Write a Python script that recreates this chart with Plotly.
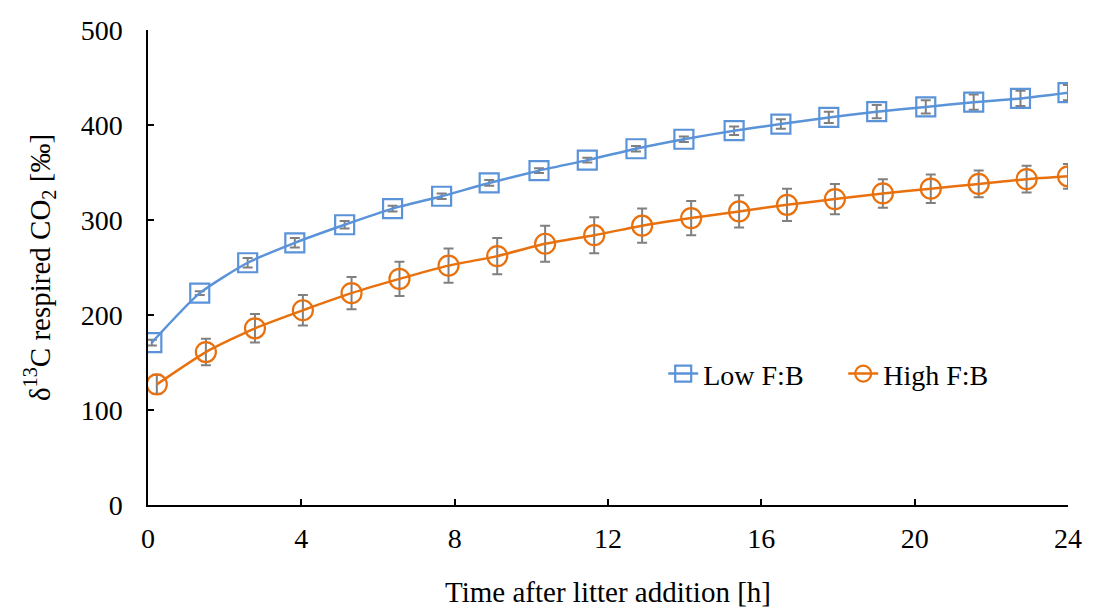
import plotly.graph_objects as go

# Time points [h]
time_low = [0.1, 1.35, 2.6, 3.83, 5.13, 6.38, 7.66, 8.9, 10.2, 11.46,
            12.73, 13.98, 15.29, 16.51, 17.76, 19.01, 20.29, 21.54, 22.76, 24.0]
time_high = [0.23, 1.51, 2.79, 4.04, 5.31, 6.56, 7.84, 9.11, 10.36, 11.64,
             12.89, 14.17, 15.42, 16.67, 17.92, 19.17, 20.42, 21.67, 22.92, 24.0]

# delta13C respired CO2 [permil]
low_fb = [171, 223, 255, 276, 295, 312, 325, 339, 352, 363,
          375, 385, 394, 401, 408, 414, 419, 424, 428, 434]
low_err = [3, 2, 5, 5, 4, 3, 3, 3, 2.5, 2.5,
           3, 3, 4.5, 5, 6, 7, 7, 8, 8, 8]
high_fb = [127, 161, 186, 205, 223, 238, 252, 262, 275, 284,
           294, 302, 309, 316, 322, 328, 333, 338, 343, 346]
high_err = [10, 14, 15, 16, 17, 18, 18, 19, 19, 19,
            18, 18, 17, 17, 16, 15, 15, 14, 14, 13]

x_ticks = [0, 4, 8, 12, 16, 20, 24]
y_ticks = [0, 100, 200, 300, 400, 500]

BLUE = "#5B93D9"
ORANGE = "#E8710E"
FONT = "Liberation Serif"
FS = 28
TS = 29

fig = go.Figure()
fig.add_trace(go.Scatter(
    x=time_low, y=low_fb, name="Low F:B", mode="lines+markers",
    line=dict(color=BLUE, width=2.5, shape="spline", smoothing=0.6),
    marker=dict(symbol="square-open", size=19, color=BLUE, line=dict(width=2.2, color=BLUE)),
    error_y=dict(type="data", array=low_err, color="#808080", thickness=2, width=5),
))
fig.add_trace(go.Scatter(
    x=time_high, y=high_fb, name="High F:B", mode="lines+markers",
    line=dict(color=ORANGE, width=2.5, shape="spline", smoothing=0.6),
    marker=dict(symbol="circle-open", size=20, color=ORANGE, line=dict(width=2.2, color=ORANGE)),
    error_y=dict(type="data", array=high_err, color="#808080", thickness=2, width=5),
))

fig.update_layout(
    width=1094, height=613,
    margin=dict(l=140, r=34, t=22, b=116),
    paper_bgcolor="white", plot_bgcolor="white",
    font=dict(family=FONT, size=FS, color="black"),
    legend=dict(orientation="h", x=0.56, y=0.276, xanchor="left", yanchor="middle",
                font=dict(family=FONT, size=FS, color="black"),
                bgcolor="rgba(0,0,0,0)", entrywidth=135, entrywidthmode="pixels"),
    showlegend=True,
)
fig.update_xaxes(
    range=[0, 24], tickvals=x_ticks, ticktext=[str(v) for v in x_ticks],
    showline=True, linecolor="black", linewidth=1.5, mirror=False,
    ticks="inside", ticklen=6, tickcolor="black", tickwidth=1.5,
    showgrid=False, zeroline=False, ticklabelstandoff=8, automargin=False,
    tickfont=dict(family=FONT, size=FS, color="black"),
    title=dict(text="Time after litter addition [h]", standoff=28,
               font=dict(family=FONT, size=TS, color="black")),
)
fig.update_yaxes(
    range=[0, 500], tickvals=y_ticks, ticktext=[str(v) for v in y_ticks],
    showline=True, linecolor="black", linewidth=1.5,
    ticks="inside", ticklen=6, tickcolor="black", tickwidth=1.5,
    showgrid=False, zeroline=False, ticklabelstandoff=18, automargin=False,
    tickfont=dict(family=FONT, size=FS, color="black"),
    title=dict(text="δ<sup>13</sup>C respired CO<sub>2</sub> [‰]", standoff=22,
               font=dict(family=FONT, size=TS, color="black")),
)

fig.write_html("out.html")
